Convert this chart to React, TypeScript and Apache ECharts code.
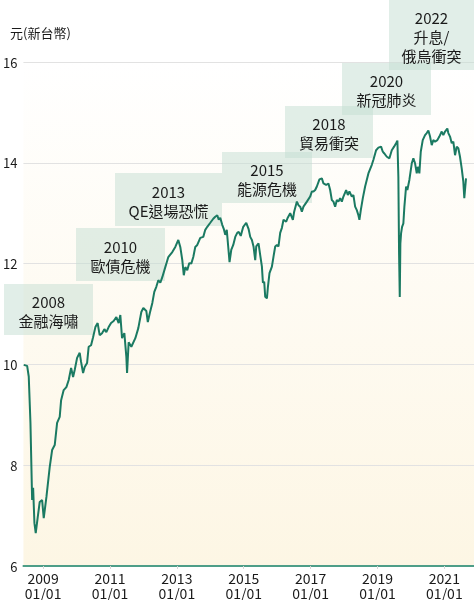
import React, { useEffect, useRef } from "react";
import * as echarts from "echarts";

// x: decimal year, y: NAV (TWD)
const years = [
  2008.420, 2008.522, 2008.570, 2008.621, 2008.671, 2008.701, 2008.740, 2008.779, 2008.839, 2008.898,
  2008.970, 2009.018, 2009.099, 2009.197, 2009.269, 2009.347, 2009.418, 2009.496, 2009.538, 2009.615,
  2009.696, 2009.765, 2009.837, 2009.896, 2009.944, 2010.016, 2010.094, 2010.135, 2010.195, 2010.243,
  2010.315, 2010.362, 2010.434, 2010.494, 2010.563, 2010.631, 2010.691, 2010.763, 2010.831, 2010.891,
  2010.960, 2011.032, 2011.109, 2011.190, 2011.259, 2011.309, 2011.360, 2011.429, 2011.489, 2011.510,
  2011.558, 2011.638, 2011.758, 2011.847, 2011.937, 2011.997, 2012.086, 2012.131, 2012.191, 2012.266,
  2012.325, 2012.385, 2012.445, 2012.505, 2012.564, 2012.654, 2012.744, 2012.863, 2012.953, 2013.043,
  2013.102, 2013.162, 2013.207, 2013.252, 2013.311, 2013.371, 2013.431, 2013.491, 2013.550, 2013.610,
  2013.700, 2013.790, 2013.849, 2013.909, 2013.999, 2014.088, 2014.148, 2014.208, 2014.253, 2014.297,
  2014.357, 2014.402, 2014.447, 2014.492, 2014.536, 2014.575, 2014.626, 2014.686, 2014.746, 2014.805,
  2014.850, 2014.910, 2014.985, 2015.075, 2015.143, 2015.194, 2015.244, 2015.292, 2015.343, 2015.373,
  2015.442, 2015.492, 2015.543, 2015.573, 2015.612, 2015.642, 2015.693, 2015.723, 2015.770, 2015.842,
  2015.890, 2015.941, 2015.991, 2016.039, 2016.090, 2016.141, 2016.189, 2016.269, 2016.308, 2016.389,
  2016.469, 2016.508, 2016.589, 2016.637, 2016.688, 2016.738, 2016.786, 2016.888, 2016.986, 2017.037,
  2017.085, 2017.136, 2017.186, 2017.264, 2017.336, 2017.384, 2017.464, 2017.533, 2017.584, 2017.634,
  2017.682, 2017.733, 2017.784, 2017.832, 2017.883, 2017.933, 2017.981, 2018.062, 2018.112, 2018.160,
  2018.232, 2018.280, 2018.331, 2018.381, 2018.429, 2018.459, 2018.501, 2018.561, 2018.630, 2018.728,
  2018.830, 2018.878, 2018.958, 2019.027, 2019.107, 2019.158, 2019.197, 2019.278, 2019.356, 2019.427,
  2019.496, 2019.556, 2019.595, 2019.624, 2019.645, 2019.666, 2019.684, 2019.705, 2019.735, 2019.774,
  2019.804, 2019.855, 2019.893, 2019.953, 2020.025, 2020.073, 2020.123, 2020.174, 2020.204, 2020.252,
  2020.294, 2020.353, 2020.422, 2020.473, 2020.521, 2020.572, 2020.622, 2020.670, 2020.721, 2020.790,
  2020.849, 2020.921, 2020.969, 2021.020, 2021.088, 2021.118, 2021.169, 2021.220, 2021.268, 2021.319,
  2021.369, 2021.417, 2021.467, 2021.518, 2021.566, 2021.596, 2021.626, 2021.647,
];

const navValues = [
  9.99, 9.97, 9.76, 8.84, 7.31, 7.55, 6.85, 6.65, 6.97, 7.27,
  7.31, 6.95, 7.37, 7.96, 8.30, 8.40, 8.84, 8.96, 9.29, 9.49,
  9.55, 9.69, 9.93, 9.75, 9.89, 10.13, 10.23, 10.05, 9.83, 9.95,
  10.03, 10.35, 10.38, 10.54, 10.74, 10.82, 10.58, 10.62, 10.70, 10.64,
  10.74, 10.82, 10.86, 10.94, 10.82, 10.98, 10.52, 10.62, 10.15, 9.83,
  10.44, 10.35, 10.52, 10.72, 11.04, 11.12, 11.06, 10.84, 11.02, 11.22,
  11.44, 11.54, 11.67, 11.62, 11.73, 11.93, 12.13, 12.23, 12.33, 12.47,
  12.33, 12.07, 11.77, 11.93, 11.87, 12.01, 12.00, 12.13, 12.33, 12.37,
  12.51, 12.53, 12.67, 12.73, 12.81, 12.89, 12.93, 12.96, 12.87, 12.91,
  12.77, 12.69, 12.57, 12.67, 12.33, 12.03, 12.27, 12.37, 12.53, 12.61,
  12.63, 12.55, 12.73, 12.81, 12.69, 12.53, 12.47, 12.34, 12.07, 12.34,
  12.40, 12.17, 11.94, 11.62, 11.64, 11.34, 11.31, 11.54, 11.81, 11.94,
  12.14, 12.34, 12.37, 12.34, 12.61, 12.71, 12.87, 12.83, 12.90, 13.00,
  12.87, 13.03, 13.23, 13.16, 13.13, 13.03, 13.13, 13.23, 13.33, 13.43,
  13.43, 13.46, 13.53, 13.67, 13.69, 13.59, 13.56, 13.59, 13.46, 13.26,
  13.23, 13.13, 13.26, 13.23, 13.30, 13.23, 13.33, 13.46, 13.36, 13.43,
  13.33, 13.36, 13.13, 13.06, 12.96, 12.87, 13.06, 13.30, 13.53, 13.79,
  13.96, 14.06, 14.25, 14.30, 14.32, 14.22, 14.19, 14.12, 14.09, 14.25,
  14.32, 14.39, 14.44, 13.72, 12.20, 11.34, 12.40, 12.60, 12.73, 12.80,
  13.13, 13.53, 13.46, 13.66, 13.99, 14.09, 13.99, 13.79, 13.92, 13.79,
  14.22, 14.45, 14.55, 14.59, 14.64, 14.52, 14.35, 14.45, 14.42, 14.45,
  14.52, 14.62, 14.55, 14.62, 14.68, 14.59, 14.52, 14.39, 14.42, 14.15,
  14.32, 14.29, 14.12, 13.89, 13.63, 13.30, 13.53, 13.69,
];

const tickYears = [2009, 2011, 2013, 2015, 2017, 2019, 2021];
const tickSuffix = "01/01";
const yTicks = { min: 6, max: 16, interval: 2 };
const axisName = "元(新台幣)";

const eventYears = ["2008", "2010", "2013", "2015", "2018", "2020", "2022"];
const eventLabels = ["金融海嘯", "歐債危機", "QE退場恐慌", "能源危機", "貿易衝突", "新冠肺炎", "升息/\n俄烏衝突"];

// annotation box layout (px): [left, top, width, height]
const boxLayout: [number, number, number, number][] = [
  [4, 284, 89, 51],
  [76, 228, 89, 53],
  [115, 173, 107, 53],
  [222, 152, 90, 51],
  [285, 106, 88, 52],
  [342, 63, 89, 52],
  [389, 0, 85, 70],
];

const FONT = '"Noto Sans CJK TC", "Noto Sans", sans-serif';

export default function App() {
  const ref = useRef<HTMLDivElement>(null);

  useEffect(() => {
    if (!ref.current) return;
    const chart = echarts.init(ref.current, undefined, { renderer: "svg" });

    const seriesData = years.map((y, i) => [y, navValues[i]]);

    const graphics: any[] = [];
    boxLayout.forEach(([l, t, w, h], i) => {
      graphics.push({
        type: "rect",
        z: 1,
        shape: { x: l, y: t, width: w, height: h },
        style: { fill: "rgba(196,222,210,0.5)" },
        silent: true,
      });
      graphics.push({
        type: "text",
        z: 1,
        x: l + w / 2,
        y: t + h / 2 + 1,
        silent: true,
        style: {
          text: eventYears[i] + "\n" + eventLabels[i],
          fill: "#1a1a1a",
          fontSize: 15,
          fontFamily: FONT,
          lineHeight: 19,
          align: "center",
          verticalAlign: "middle",
        },
      });
    });

    chart.setOption({
      animation: false,
      textStyle: { fontFamily: FONT },
      title: {
        text: axisName,
        left: 5,
        top: 21,
        textStyle: { fontSize: 13, fontWeight: "normal", color: "#1a1a1a", fontFamily: FONT },
      },
      grid: {
        left: 23,
        right: 0,
        top: 62,
        bottom: 34,
        show: true,
        borderWidth: 0,
        backgroundColor: new echarts.graphic.LinearGradient(0, 0, 0, 1, [
          { offset: 0, color: "#ffffff" },
          { offset: 1, color: "#fdf6e4" },
        ]),
      },
      xAxis: {
        type: "value",
        min: 2008.411,
        max: 2021.886,
        splitLine: { show: false },
        axisLine: { lineStyle: { color: "#4e9e88", width: 2 } },
        axisTick: { show: true, customValues: tickYears, length: 3, lineStyle: { color: "#d8d8d8" } },
        axisLabel: {
          customValues: tickYears,
          formatter: (v: number) => `${Math.round(v)}\n${tickSuffix}`,
          fontSize: 14,
          lineHeight: 15,
          color: "#1a1a1a",
          margin: 4,
          fontFamily: FONT,
        },
      },
      yAxis: {
        type: "value",
        min: yTicks.min,
        max: yTicks.max,
        interval: yTicks.interval,
        axisLine: { show: false },
        axisTick: { show: false },
        axisLabel: { fontSize: 13, color: "#1a1a1a", margin: 6, fontFamily: FONT },
        splitLine: { lineStyle: { color: "#e2e2e2", width: 1 } },
      },
      series: [
        {
          type: "line",
          data: seriesData,
          showSymbol: false,
          symbol: "none",
          z: 3,
          lineStyle: { color: "#1b7a62", width: 2 },
        },
      ],
      graphic: graphics,
    });

    return () => chart.dispose();
  }, []);

  return (
    <div
      ref={ref}
      style={{ position: "fixed", left: 0, top: 0, width: 474, height: 600 }}
    />
  );
}
